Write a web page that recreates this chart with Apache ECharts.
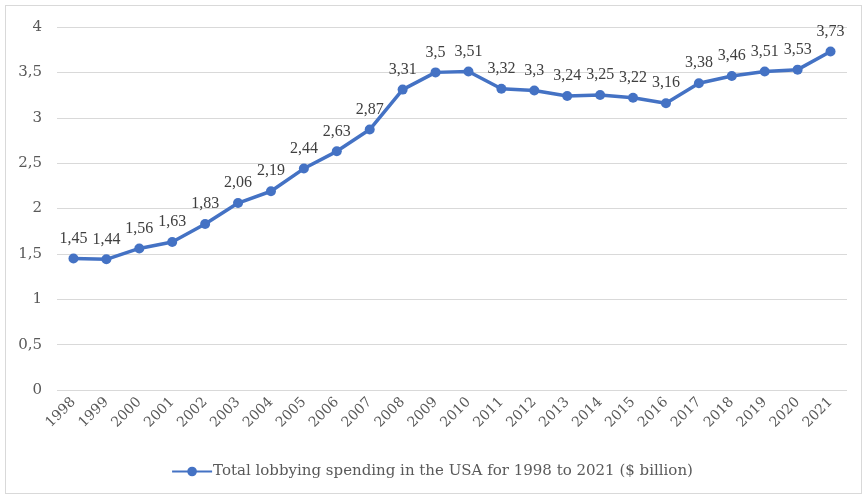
<!DOCTYPE html>
<html><head><meta charset="utf-8">
<script src="https://cdn.jsdelivr.net/npm/echarts@6/dist/echarts.min.js"></script>
<style>html,body{margin:0;padding:0;background:#fff}#c{width:864px;height:496px;box-sizing:border-box}
#frame{position:absolute;left:5px;top:5px;width:857px;height:489px;border:1px solid #d9d9d9;box-sizing:border-box;pointer-events:none}</style>
</head><body><div id="c"></div><div id="frame"></div>
<script>
const years = ['1998','1999','2000','2001','2002','2003','2004','2005','2006','2007','2008','2009','2010','2011','2012','2013','2014','2015','2016','2017','2018','2019','2020','2021'];
const spending = [1.45,1.44,1.56,1.63,1.83,2.06,2.19,2.44,2.63,2.87,3.31,3.5,3.51,3.32,3.3,3.24,3.25,3.22,3.16,3.38,3.46,3.51,3.53,3.73];
const seriesName = 'Total lobbying spending in the USA for 1998 to 2021 ($ billion)';
const fmt = v => String(v).replace('.', ',');
const chart = echarts.init(document.getElementById('c'));
chart.setOption({
  animation: false,
  textStyle: {fontFamily: 'DejaVu Serif'},
  grid: {left: 57, right: 17, top: 27, bottom: 106},
  legend: {
    bottom: 12, left: 'center', itemWidth: 40, itemHeight: 12, itemGap: 2,
    textStyle: {fontFamily: 'DejaVu Serif', fontSize: 15, color: '#595959', padding: [0, 0, 0, -4]},
    data: [{name: seriesName}]
  },
  xAxis: {
    type: 'category', data: years, boundaryGap: true,
    axisLine: {show: false}, axisTick: {show: false},
    axisLabel: {rotate: 45, color: '#595959', fontSize: 14, fontFamily: 'DejaVu Serif', margin: 10, interval: 0}
  },
  yAxis: {
    type: 'value', min: 0, max: 4, interval: 0.5,
    axisLine: {show: false}, axisTick: {show: false},
    splitLine: {lineStyle: {color: '#d9d9d9', width: 1}},
    axisLabel: {color: '#595959', fontSize: 15, fontFamily: 'DejaVu Serif', margin: 15, formatter: v => fmt(v)}
  },
  series: [{
    name: seriesName, type: 'line', data: spending,
    symbol: 'circle', symbolSize: 10,
    lineStyle: {color: '#4472C4', width: 3.5},
    itemStyle: {color: '#4472C4'},
    label: {show: true, position: 'top', distance: 7, color: '#404040', fontSize: 16, fontFamily: 'Liberation Serif', formatter: p => fmt(p.value)}
  }]
});
</script></body></html>
